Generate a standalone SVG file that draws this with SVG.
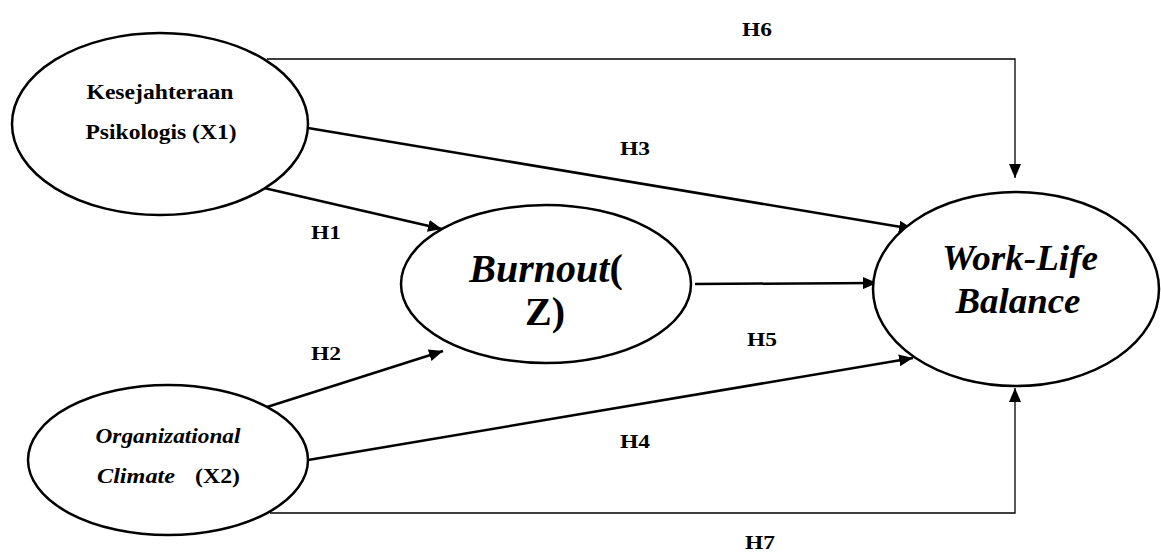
<svg xmlns="http://www.w3.org/2000/svg" width="1161" height="555" viewBox="0 0 1161 555">
<style>
.node{fill:#fff;stroke:#000;stroke-width:2.5}
.t{font-family:'Liberation Serif',Tinos,'DejaVu Serif',serif;font-weight:bold;fill:#000}
.i{font-style:italic}
.c{stroke:#000;stroke-width:2.5;fill:none}
.thin{stroke:#000;stroke-width:1.3;fill:none}
.lbl{font-family:'Liberation Serif',Tinos,'DejaVu Serif',serif;font-weight:bold;font-size:19px;fill:#000}
</style>
<defs>
<marker id="ah" viewBox="0 0 14 12" refX="14" refY="6" markerWidth="14" markerHeight="12" markerUnits="userSpaceOnUse" orient="auto"><path d="M0,0 L14,6 L0,12 z" fill="#000"/></marker>
</defs>
<rect width="1161" height="555" fill="#fff"/>
<g id="connectors">
<polyline class="thin" points="267,59 1015,59 1015,178" marker-end="url(#ah)"/>
<polyline class="thin" points="270,513 1015,513 1015,388" marker-end="url(#ah)"/>
<line class="c" x1="308" y1="128" x2="913" y2="229" marker-end="url(#ah)"/>
<line class="c" x1="264" y1="188" x2="442" y2="229" marker-end="url(#ah)"/>
<line class="c" x1="267" y1="407" x2="443" y2="351" marker-end="url(#ah)"/>
<line class="c" x1="308" y1="460" x2="913" y2="358" marker-end="url(#ah)"/>
<line class="c" x1="695" y1="284" x2="877" y2="283" marker-end="url(#ah)"/>
<text class="lbl" x="757" y="36" text-anchor="middle" textLength="30" lengthAdjust="spacingAndGlyphs">H6</text>
<text class="lbl" x="635" y="155" text-anchor="middle" textLength="30" lengthAdjust="spacingAndGlyphs">H3</text>
<text class="lbl" x="326" y="239" text-anchor="middle" textLength="30" lengthAdjust="spacingAndGlyphs">H1</text>
<text class="lbl" x="762" y="346" text-anchor="middle" textLength="30" lengthAdjust="spacingAndGlyphs">H5</text>
<text class="lbl" x="326" y="360" text-anchor="middle" textLength="30" lengthAdjust="spacingAndGlyphs">H2</text>
<text class="lbl" x="635" y="448" text-anchor="middle" textLength="30" lengthAdjust="spacingAndGlyphs">H4</text>
<text class="lbl" x="760" y="549" text-anchor="middle" textLength="30" lengthAdjust="spacingAndGlyphs">H7</text>
</g>
<g id="x1">
<ellipse class="node" cx="160" cy="124" rx="148" ry="91"/>
<text class="t" x="160" y="99" font-size="21" text-anchor="middle" textLength="147" lengthAdjust="spacingAndGlyphs">Kesejahteraan</text>
<text class="t" x="161" y="139" font-size="21" text-anchor="middle" textLength="151" lengthAdjust="spacingAndGlyphs">Psikologis (X1)</text>
</g>
<g id="x2">
<ellipse class="node" cx="168" cy="460" rx="140" ry="75"/>
<text class="t i" x="168" y="443" font-size="21" text-anchor="middle" textLength="145" lengthAdjust="spacingAndGlyphs">Organizational</text>
<text class="t i" x="97" y="483" font-size="21" textLength="78" lengthAdjust="spacingAndGlyphs">Climate</text>
<text class="t" x="195" y="483" font-size="21" textLength="45" lengthAdjust="spacingAndGlyphs">(X2)</text>
</g>
<g id="z">
<ellipse class="node" cx="546" cy="284" rx="145" ry="79"/>
<text class="t" x="546" y="282" font-size="40" text-anchor="middle"><tspan font-style="italic">Burnout</tspan>(</text>
<text class="t" x="545" y="325" font-size="40" text-anchor="middle">Z)</text>
</g>
<g id="y">
<ellipse class="node" cx="1016" cy="289" rx="143" ry="97"/>
<text class="t i" x="1020" y="270" font-size="36" text-anchor="middle" textLength="156" lengthAdjust="spacingAndGlyphs">Work-Life</text>
<text class="t i" x="1018" y="313" font-size="36" text-anchor="middle" textLength="125" lengthAdjust="spacingAndGlyphs">Balance</text>
</g>
</svg>
